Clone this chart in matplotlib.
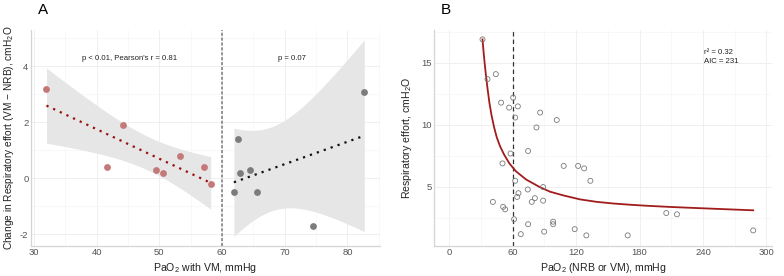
### Two-panel respiratory effort figure (A: change vs PaO2 with VM, B: effort vs PaO2) ###
import numpy as np
import matplotlib
matplotlib.use('Agg')
import matplotlib.pyplot as plt
from matplotlib.ticker import MultipleLocator

plt.rcParams['font.family'] = ['Liberation Sans', 'DejaVu Sans']
plt.rcParams['axes.unicode_minus'] = False

# panel A: PaO2 with VM vs change in effort, split at 60 mmHg
low_pao2 = [32.0, 41.7, 44.2, 49.5, 50.6, 53.3, 57.2, 58.2]
low_change = [3.2, 0.4, 1.9, 0.3, 0.2, 0.8, 0.4, -0.2]
high_pao2 = [61.9, 62.6, 62.8, 64.5, 65.6, 74.5, 82.7]
high_change = [-0.5, 1.4, 0.2, 0.3, -0.5, -1.7, 3.1]
low_text = "p < 0.01, Pearson's r = 0.81"
high_text = 'p = 0.07'

# panel B: PaO2 (NRB or VM) vs respiratory effort
pao2 = [31.5, 36.2, 44.1, 49.1, 56.7, 60.5, 64.9, 62.4, 86.0, 82.5, 101.7,
        58.0, 74.6, 50.4, 108.3, 121.9, 127.6, 133.5, 62.4, 88.8, 74.3,
        65.5, 64.3, 81.0, 78.1, 88.8, 41.3, 51.0, 52.9, 61.4, 74.6, 98.3,
        98.3, 67.7, 89.8, 118.7, 129.7, 168.8, 205.3, 215.4, 287.5]
effort = [16.9, 13.7, 14.1, 11.8, 11.4, 12.2, 11.5, 10.6, 11.0, 9.8, 10.4,
          7.7, 7.9, 6.9, 6.7, 6.7, 6.5, 5.5, 5.5, 5.0, 4.8,
          4.5, 4.2, 4.1, 3.8, 3.9, 3.8, 3.4, 3.2, 2.4, 2.0, 2.2,
          2.0, 1.2, 1.4, 1.6, 1.1, 1.1, 2.9, 2.8, 1.5]
# fitted curve as drawn in the figure
curve_x = [31.5, 32.5, 33.5, 34.5, 36, 38, 40, 42.5, 45, 48, 52, 57,
           63.3, 72.8, 85.9, 95.4, 108, 123.8, 139.6, 155.2, 171, 188.3,
           212, 243.5, 287.5]
curve_y = [16.9, 15.9, 15.0, 14.2, 13.1, 11.8, 10.8, 9.8, 9.0, 8.3, 7.6, 6.89,
           6.25, 5.6, 4.98, 4.62, 4.32, 4.0, 3.8, 3.67, 3.57, 3.48,
           3.38, 3.27, 3.12]
fit_text = 'r\u00b2 = 0.32\nAIC = 231'

T_CRIT = {5: 2.571, 6: 2.447}  # 95% two-sided t quantiles


def lm_band(x, y, n=80):
    '''linear fit with 95% confidence band, like geom_smooth(method="lm")'''
    x = np.asarray(x)
    y = np.asarray(y)
    slope, icept = np.polyfit(x, y, 1)
    resid = y - (slope*x + icept)
    df = len(x) - 2
    s = np.sqrt(np.sum(resid**2)/df)
    xs = np.linspace(x.min(), x.max(), n)
    fit = slope*xs + icept
    se = s*np.sqrt(1/len(x) + (xs - x.mean())**2/np.sum((x - x.mean())**2))
    return xs, fit, fit - T_CRIT[df]*se, fit + T_CRIT[df]*se


def style(ax):
    for side in ['top', 'right']:
        ax.spines[side].set_visible(False)
    for side in ['left', 'bottom']:
        ax.spines[side].set_color('#d4d4d4')
        ax.spines[side].set_linewidth(0.9)
    ax.grid(True, which='major', color='#ececec', linewidth=0.6)
    ax.grid(True, which='minor', color='#f4f4f4', linewidth=0.4)
    ax.set_axisbelow(True)
    ax.tick_params(which='both', length=0, pad=1.5, labelsize=6.8,
                   labelcolor='#555555')


fig = plt.figure(figsize=(7.84, 2.76), dpi=100)

# ---- panel A ----
ax1 = fig.add_axes([0.039, 0.109, 0.446, 0.782])
style(ax1)
for xs_, ys_, pt_col, ln_col in [(low_pao2, low_change, '#c47878', '#9a0f0f'),
                                 (high_pao2, high_change, '#7c7c7c', '#111111')]:
    xs, fit, lo, hi = lm_band(xs_, ys_)
    ax1.fill_between(xs, lo, hi, color='#e6e6e6', linewidth=0, zorder=1)
    ax1.plot(xs, fit, color=ln_col, linewidth=1.6, linestyle=(0, (1, 2.3)),
             dash_capstyle='butt', zorder=3)
    ax1.scatter(xs_, ys_, s=24, color=pt_col, linewidths=0, zorder=4)
ax1.axvline(60, color='#7a7a7a', linewidth=1.1, linestyle=(0, (2, 1.2)),
            zorder=2)
ax1.text(45.2, 4.3, low_text, fontsize=5.6, ha='center', va='center',
         color='#222222')
ax1.text(71.2, 4.3, high_text, fontsize=5.6, ha='center', va='center',
         color='#222222')
ax1.set_xlim(29.46, 85.24)
ax1.set_ylim(-2.42, 5.30)
ax1.xaxis.set_major_locator(MultipleLocator(10))
ax1.xaxis.set_minor_locator(MultipleLocator(5))
ax1.yaxis.set_major_locator(MultipleLocator(2))
ax1.yaxis.set_minor_locator(MultipleLocator(1))
ax1.set_xlabel(r'PaO$\mathregular{_2}$ with VM, mmHg', fontsize=7.6,
               color='#222222', labelpad=3)
ax1.set_ylabel('Change in Respiratory effort (VM \u2212 NRB), cmH$\\mathregular{_2}$O',
               fontsize=7.3, color='#222222', labelpad=3)
fig.text(0.055, 0.965, 'A', fontsize=11, ha='center', va='center')

# ---- panel B ----
ax2 = fig.add_axes([0.553, 0.109, 0.432, 0.782])
style(ax2)
ax2.scatter(pao2, effort, s=13, facecolors='none', edgecolors='#7a7a7a',
            linewidths=0.6, zorder=4)
ax2.plot(curve_x, curve_y, color='#a11c1c', linewidth=1.3, zorder=3)
ax2.axvline(60, color='#333333', linewidth=0.9, linestyle=(0, (3.5, 2.5)),
            zorder=2)
ax2.text(241, 15.5, fit_text, fontsize=5.6, ha='left', va='center',
         color='#222222', linespacing=1.3)
ax2.set_xlim(-14.8, 305.5)
ax2.set_ylim(0.25, 17.65)
ax2.xaxis.set_major_locator(MultipleLocator(60))
ax2.xaxis.set_minor_locator(MultipleLocator(30))
ax2.yaxis.set_major_locator(MultipleLocator(5))
ax2.yaxis.set_minor_locator(MultipleLocator(2.5))
ax2.set_xlabel(r'PaO$\mathregular{_2}$ (NRB or VM), mmHg', fontsize=7.6,
               color='#222222', labelpad=3)
ax2.set_ylabel(r'Respiratory effort, cmH$\mathregular{_2}$O', fontsize=7.6,
               color='#222222', labelpad=5)
fig.text(0.569, 0.965, 'B', fontsize=11, ha='center', va='center')

plt.savefig('out.png', dpi=100)
